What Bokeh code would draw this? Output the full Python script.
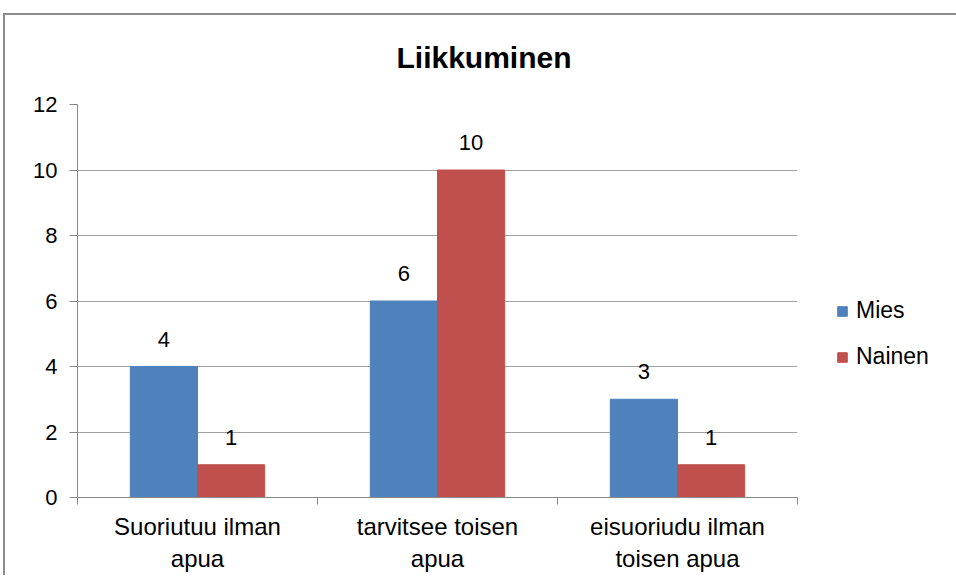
from bokeh.plotting import figure
from bokeh.models import ColumnDataSource, Range1d, FixedTicker, LabelSet, Legend, LegendItem
from bokeh.core.properties import value
from bokeh.embed import file_html
from bokeh.resources import INLINE

title = "Liikkuminen"
categories = ["Suoriutuu ilman\napua", "tarvitsee toisen\napua", "eisuoriudu ilman\ntoisen apua"]
series_names = ["Mies", "Nainen"]
mies = [4, 6, 3]
nainen = [1, 10, 1]
y_ticks = [0, 2, 4, 6, 8, 10, 12]
colors = ["#4F81BD", "#C0504D"]

FONT = "Liberation Sans"
centers = [i + 0.5 for i in range(len(categories))]
bw = 0.28

p = figure(frame_width=720, frame_height=393, output_backend="svg", toolbar_location=None,
           x_range=Range1d(0, len(categories)), y_range=Range1d(0, 12),
           min_border_left=74, min_border_right=154, min_border_top=100, min_border_bottom=78)

src_m = ColumnDataSource(dict(x=[c - bw / 2 for c in centers], top=mies, lab=[str(v) for v in mies]))
src_n = ColumnDataSource(dict(x=[c + bw / 2 for c in centers], top=nainen, lab=[str(v) for v in nainen]))

r1 = p.vbar(x="x", top="top", bottom=0, width=bw, source=src_m, fill_color=colors[0], line_color=colors[0])
r2 = p.vbar(x="x", top="top", bottom=0, width=bw, source=src_n, fill_color=colors[1], line_color=colors[1])

for s in (src_m, src_n):
    p.add_layout(LabelSet(x="x", y="top", text="lab", source=s, text_align="center",
                          text_baseline="bottom", y_offset=20, text_font=value(FONT),
                          text_font_size=value("22px"), text_color="#000000"))

# title
p.title.text = title
p.title.text_font = FONT
p.title.text_font_size = "30px"
p.title.text_font_style = "bold"
p.title.text_color = "#000000"
p.title.align = "left"
p.title.offset = 319
p.title.standoff = 62

# x axis
p.xaxis.ticker = FixedTicker(ticks=centers, minor_ticks=[0, 1, 2, 3])
p.xaxis.major_label_overrides = {c: lab for c, lab in zip(centers, categories)}
p.xaxis.major_tick_out = 0
p.xaxis.major_tick_in = 0
p.xaxis.minor_tick_out = 7
p.xaxis.minor_tick_in = 0
p.xaxis.minor_tick_line_color = "#888888"
p.xaxis.axis_line_color = "#888888"
p.xaxis.major_label_text_font = FONT
p.xaxis.major_label_text_font_size = "24px"
p.xaxis.major_label_text_color = "#000000"
p.xaxis.major_label_standoff = 8
p.xgrid.visible = False

# y axis
p.yaxis.ticker = FixedTicker(ticks=y_ticks)
p.yaxis.major_tick_out = 8
p.yaxis.major_tick_in = 0
p.yaxis.minor_tick_out = 0
p.yaxis.minor_tick_in = 0
p.yaxis.major_tick_line_color = "#888888"
p.yaxis.axis_line_color = "#888888"
p.yaxis.major_label_text_font = FONT
p.yaxis.major_label_text_font_size = "22px"
p.yaxis.major_label_text_color = "#000000"
p.yaxis.major_label_standoff = 12
p.ygrid.grid_line_color = "#a0a0a0"
p.ygrid.grid_line_width = 1

p.outline_line_color = None
p.background_fill_color = "white"
p.border_fill_alpha = 0

legend = Legend(items=[LegendItem(label=series_names[0], renderers=[r1]),
                       LegendItem(label=series_names[1], renderers=[r2])],
                label_text_font=FONT, label_text_font_size="23px", label_text_color="#000000",
                glyph_width=12, glyph_height=12, spacing=19, border_line_color=None,
                background_fill_alpha=0, margin=0, padding=0, label_standoff=8,
                location=(39, 127))
p.add_layout(legend, "right")

p.styles = {
    "margin-left": "3px",
    "margin-top": "4px",
    "background": ("linear-gradient(#8c8c8c, #8c8c8c) 0 9px / 100% 2px no-repeat, "
                   "linear-gradient(#8c8c8c, #8c8c8c) 0 9px / 2px 100% no-repeat, white"),
}

open("out.html", "w").write(file_html(p, INLINE))
